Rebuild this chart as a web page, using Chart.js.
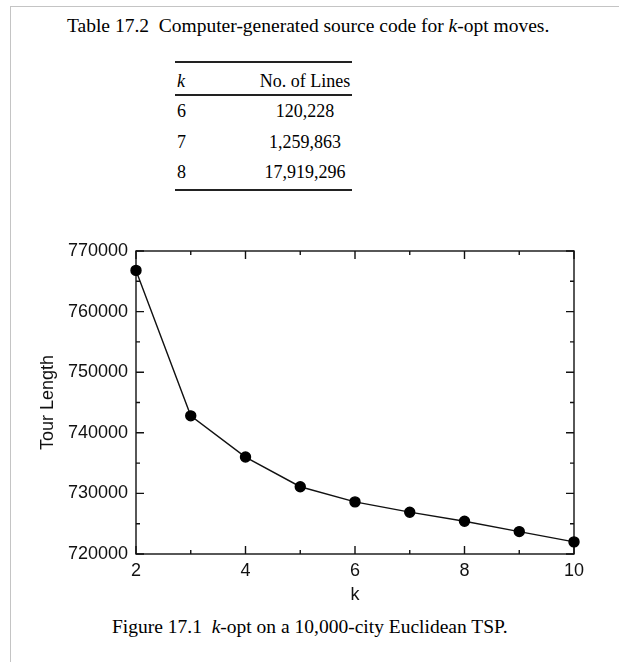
<!DOCTYPE html>
<html>
<head>
<meta charset="utf-8">
<script src="https://cdn.jsdelivr.net/npm/chart.js@4.4.0/dist/chart.umd.min.js"></script>
<style>
  body { margin: 0; background: #fff; width: 619px; height: 662px; overflow: hidden; position: relative; }
  .serif { font-family: "Liberation Serif", "Times New Roman", serif; color: #000; position: absolute; white-space: nowrap; font-size: 18px; line-height: 18px; }
  .big { font-size: 19.5px; line-height: 19.5px; }
  .rule { position: absolute; left: 175px; width: 177px; height: 1.5px; background: #222; }
  #frameTop { position: absolute; left: 10px; top: 6px; width: 609px; height: 1px; background: #c4c4c4; }
  #frameLeft { position: absolute; left: 10px; top: 6px; width: 1px; height: 656px; background: #c4c4c4; }
  #wrap { position: absolute; left: 0; top: 230px; width: 619px; height: 380px; }
</style>
</head>
<body>
<div id="frameTop"></div>
<div id="frameLeft"></div>

<div class="serif big" style="left:67px; top:16px;">Table 17.2&nbsp; Computer-generated source code for <i>k</i>-opt moves.</div>

<div class="rule" style="top:61px;"></div>
<div class="serif" style="left:177px; top:72px;"><i>k</i></div>
<div class="serif" style="left:255px; width:100px; text-align:center; top:72px;">No. of Lines</div>
<div class="rule" style="top:94px;"></div>
<div id="rows"></div>
<div class="rule" style="top:189px;"></div>

<div id="wrap"><canvas id="myChart"></canvas></div>

<div class="serif big" style="left:112px; top:617px;">Figure 17.1&nbsp; <i>k</i>-opt on a 10,000-city Euclidean TSP.</div>

<script>
// table 17.2
var tableK = [6, 7, 8];
var tableLines = ['120,228', '1,259,863', '17,919,296'];

// figure 17.1
var kValues = [2, 3, 4, 5, 6, 7, 8, 9, 10];
var tourLength = [766800, 742800, 736000, 731100, 728600, 726900, 725400, 723700, 722000];

var rowTops = [102, 133, 163];
var rows = document.getElementById('rows');
for (var i = 0; i < tableK.length; i++) {
  var a = document.createElement('div');
  a.className = 'serif';
  a.style.left = '177px';
  a.style.top = rowTops[i] + 'px';
  a.textContent = tableK[i];
  rows.appendChild(a);
  var b = document.createElement('div');
  b.className = 'serif';
  b.style.left = '255px';
  b.style.width = '100px';
  b.style.textAlign = 'center';
  b.style.top = rowTops[i] + 'px';
  b.textContent = tableLines[i];
  rows.appendChild(b);
}

// box + inward ticks like the old plotting package
var frameTicks = {
  id: 'frameTicks',
  beforeDatasetsDraw: function(chart) {
    var ctx = chart.ctx, a = chart.chartArea;
    var xs = chart.scales.x, ys = chart.scales.y;
    ctx.save();
    ctx.strokeStyle = '#111';
    ctx.lineWidth = 1.4;
    ctx.strokeRect(a.left, a.top, a.right - a.left, a.bottom - a.top);
    ctx.beginPath();
    for (var k = 2; k <= 10; k++) {
      var px = xs.getPixelForValue(k);
      var len = (k % 2 == 0) ? 8 : 4;
      ctx.moveTo(px, a.bottom); ctx.lineTo(px, a.bottom - len);
      ctx.moveTo(px, a.top); ctx.lineTo(px, a.top + len);
    }
    for (var v = 720000; v <= 770000; v += 5000) {
      var py = ys.getPixelForValue(v);
      var l2 = (v % 10000 == 0) ? 8 : 4;
      ctx.moveTo(a.left, py); ctx.lineTo(a.left + l2, py);
      ctx.moveTo(a.right, py); ctx.lineTo(a.right - l2, py);
    }
    ctx.stroke();
    ctx.restore();
  }
};

var font = { family: '"Liberation Sans", Arial, sans-serif', size: 18 };

var myChart = new Chart(document.getElementById('myChart'), {
  type: 'line',
  data: {
    datasets: [{
      data: kValues.map(function(k, i) { return { x: k, y: tourLength[i] }; }),
      borderColor: '#111',
      borderWidth: 1.4,
      backgroundColor: '#000',
      pointBackgroundColor: '#000',
      pointBorderColor: '#000',
      pointRadius: 5,
      tension: 0,
      fill: false,
      clip: false
    }]
  },
  options: {
    responsive: true,
    maintainAspectRatio: false,
    animation: false,
    layout: { padding: { left: 30, right: 45, top: 21, bottom: 0 } },
    plugins: { legend: { display: false }, tooltip: { enabled: false } },
    scales: {
      x: {
        type: 'linear',
        min: 2, max: 10,
        grid: { display: false, drawTicks: false },
        border: { display: false },
        ticks: { stepSize: 2, padding: 6, color: '#111', font: font },
        title: { display: true, text: 'k', color: '#111', font: font, padding: { top: 0, bottom: 4 } },
        afterFit: function(s) { s.height = 56; }
      },
      y: {
        min: 720000, max: 770000,
        grid: { display: false, drawTicks: false },
        border: { display: false },
        ticks: { stepSize: 10000, padding: 8, color: '#111', font: font,
          callback: function(v) { return String(v); } },
        title: { display: true, text: 'Tour Length', color: '#111', font: font, padding: { top: 7, bottom: 0 } },
        afterFit: function(s) { s.width = 106; }
      }
    }
  },
  plugins: [frameTicks]
});
</script>
</body>
</html>
